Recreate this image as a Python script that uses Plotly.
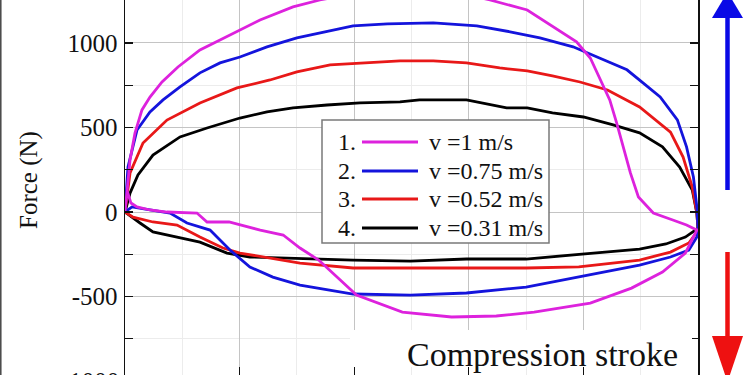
import plotly.graph_objects as go

W, H = 750, 375
ML, MR, MT, MB = 125, 52, 0, 0
PW, PH = W - ML - MR, H - MT - MB


def px(xp):
    return (xp - ML) / PW


def py(yp):
    return 1 - (yp - MT) / PH


FONT = "Liberation Serif, Times New Roman, serif"

# ---------------- data ----------------
series_numbers = ["1.", "2.", "3.", "4."]
series_names = ["v =1 m/s", "v =0.75 m/s", "v =0.52 m/s", "v =0.31 m/s"]
series_colors = ["#dd22dd", "#1414dc", "#e81818", "#000000"]

# upper (rebound) branches, left -> right
mag_up_x = [0, 0.44, 0.87, 1.48, 2.18, 3.23, 4.62, 6.54, 8.29, 10.03, 11.78, 14.66, 17.0, 20.5, 24.9,
            28.4, 31.85, 35.1, 37.1, 39.4, 40.6, 41.4, 42.3, 42.9, 43.5, 44.1, 44.8, 46.1, 47.8, 49.0, 49.9]
mag_up_y = [0, 308, 467, 604, 680, 769, 858, 959, 1018, 1077, 1136, 1213, 1254, 1300, 1330,
            1310, 1254, 1195, 1107, 1006, 911, 799, 663, 527, 385, 231, 89, -6, -47, -77, -107]

blu_up_x = [0, 0.26, 1.05, 2.18, 3.32, 4.80, 6.54, 8.29, 10.03, 12.39, 15.0, 17.6, 19.9, 22.9, 25.5,
            26.9, 30.7, 33.6, 36.2, 39.1, 41.4, 43.8, 45.2, 46.7, 48.2, 49.0, 49.6, 49.9]
blu_up_y = [0, 266, 485, 592, 663, 740, 823, 882, 917, 977, 1030, 1066, 1101, 1113, 1119,
            1119, 1101, 1066, 1030, 977, 911, 841, 764, 681, 545, 385, 207, 30]

red_up_x = [0, 0.44, 1.57, 3.66, 6.54, 9.77, 12.65, 15.0, 17.9, 20.5, 24.0, 26.9, 29.8, 32.7, 35.1,
            37.3, 39.7, 42.1, 44.9, 47.6, 48.7, 49.5, 49.9]
red_up_y = [0, 231, 408, 544, 645, 734, 781, 829, 870, 882, 894, 894, 882, 852, 835,
            805, 769, 722, 621, 473, 325, 148, -6]

blk_up_x = [0, 0.44, 1.13, 2.44, 4.80, 7.16, 10.03, 12.39, 14.66, 17.63, 20.5, 24.0, 25.7, 29.8, 33.3,
            35.1, 37.3, 40.0, 42.6, 44.9, 46.9, 48.4, 49.5, 49.9]
blk_up_y = [0, 112, 219, 337, 444, 497, 556, 592, 616, 633, 645, 651, 663, 663, 616,
            616, 586, 562, 515, 468, 385, 266, 130, -6]

# lower (compression) branches, left -> right
mag_lo_x = [0.17, 0.52, 1.05, 2.18, 3.66, 6.28, 7.16, 9.08, 11.8, 13.8, 15.27, 16.9, 20.2, 24.2, 28.5,
            32.4, 35.7, 40.6, 44.2, 46.9, 48.9, 49.9, 50.0]
mag_lo_y = [130, 53, 30, 12, 0, -6, -59, -59, -107, -136, -213, -284, -491, -592, -621,
            -615, -592, -539, -450, -355, -243, -107, -100]

blu_lo_x = [0, 0.61, 2.18, 3.93, 5.41, 7.42, 9.16, 10.9, 12.9, 15.27, 19.9, 24.9, 29.8, 35.0, 40.3,
            44.9, 47.6, 49.2, 49.9, 50.0]
blu_lo_y = [0, 30, 12, -6, -65, -107, -225, -325, -385, -432, -485, -491, -479, -444, -373,
            -314, -266, -225, -148, -100]

red_lo_x = [0, 0.70, 2.44, 4.54, 6.54, 8.55, 10.03, 12.39, 15.27, 19.9, 24.9, 29.8, 35.0, 39.6, 44.9,
            47.6, 49.2, 49.9, 50.0]
red_lo_y = [0, -30, -59, -77, -148, -213, -243, -272, -302, -331, -331, -331, -331, -325, -284,
            -237, -183, -118, -100]

blk_lo_x = [0, 1.31, 2.44, 4.54, 6.54, 8.9, 10.9, 14.66, 19.9, 24.9, 29.8, 35.0, 40.6, 44.9, 47.2,
            48.9, 49.9, 50.0]
blk_lo_y = [0, -65, -118, -148, -178, -243, -266, -272, -284, -290, -278, -278, -243, -219, -189,
            -148, -101, -100]

y_tick_vals = [-500, 0, 500, 1000]
y_tick_text = ["-500", "0", "500", "1000"]

# ---------------- figure ----------------
uppers = [(mag_up_x, mag_up_y), (blu_up_x, blu_up_y), (red_up_x, red_up_y), (blk_up_x, blk_up_y)]
lowers = [(mag_lo_x, mag_lo_y), (blu_lo_x, blu_lo_y), (red_lo_x, red_lo_y), (blk_lo_x, blk_lo_y)]

fig = go.Figure()
for i in [3, 2, 1, 0]:
    ux, uy = uppers[i]
    lx, ly = lowers[i]
    fig.add_trace(go.Scatter(
        x=list(ux) + list(lx[::-1]),
        y=list(uy) + list(ly[::-1]),
        mode="lines",
        line=dict(color=series_colors[i], width=2.8),
        name=series_names[i],
        showlegend=False,
        hoverinfo="skip",
    ))

shapes = []
annotations = []

# manual legend (number, line sample, label) inside a framed box
shapes.append(dict(type="rect", xref="paper", yref="paper",
                   x0=px(322), x1=px(549), y0=py(243), y1=py(120),
                   line=dict(color="#7a7a7a", width=1.5), fillcolor="white", layer="above"))
row_y = [142, 171, 199, 228]
for i in range(4):
    annotations.append(dict(xref="paper", yref="paper", x=px(358), y=py(row_y[i]),
                            xanchor="right", yanchor="middle", showarrow=False,
                            text=series_numbers[i], font=dict(family=FONT, size=24, color="#111")))
    shapes.append(dict(type="line", xref="paper", yref="paper",
                       x0=px(362), x1=px(418), y0=py(row_y[i]), y1=py(row_y[i]),
                       line=dict(color=series_colors[i], width=2.8), layer="above"))
    annotations.append(dict(xref="paper", yref="paper", x=px(427), y=py(row_y[i]),
                            xanchor="left", yanchor="middle", showarrow=False,
                            text=series_names[i], font=dict(family=FONT, size=24, color="#111")))

# white patch behind the "Compression stroke" label
shapes.append(dict(type="rect", xref="paper", yref="paper",
                   x0=px(350), x1=px(692), y0=py(367), y1=py(330),
                   line=dict(width=0), fillcolor="white", layer="above"))
annotations.append(dict(xref="paper", yref="paper", x=px(542), y=py(354),
                        xanchor="center", yanchor="middle", showarrow=False,
                        text="Compression stroke", font=dict(family=FONT, size=34, color="#111")))

# y-axis title
annotations.append(dict(xref="paper", yref="paper", x=px(29), y=py(180),
                        xanchor="center", yanchor="middle", showarrow=False, textangle=-90,
                        text="Force (N)", font=dict(family=FONT, size=25, color="#111")))
# partially visible bottom tick label
annotations.append(dict(xref="paper", yref="paper", x=px(121), y=py(381),
                        xanchor="right", yanchor="middle", showarrow=False,
                        text="-1000", font=dict(family=FONT, size=25, color="#111")))

# arrows at the right side
shapes.append(dict(type="line", xref="paper", yref="paper",
                   x0=px(727.5), x1=px(727.5), y0=py(190), y1=py(12),
                   line=dict(color="#0a0ae6", width=4.5)))
shapes.append(dict(type="path", xref="paper", yref="paper",
                   path=f"M {px(712)} {py(18)} L {px(743)} {py(18)} L {px(727.5)} {py(-8)} Z",
                   fillcolor="#0a0ae6", line=dict(width=0)))
shapes.append(dict(type="line", xref="paper", yref="paper",
                   x0=px(727.5), x1=px(727.5), y0=py(252), y1=py(340),
                   line=dict(color="#ee1111", width=4.5)))
shapes.append(dict(type="path", xref="paper", yref="paper",
                   path=f"M {px(712)} {py(336)} L {px(743)} {py(336)} L {px(727.5)} {py(382)} Z",
                   fillcolor="#ee1111", line=dict(width=0)))
# thin frame line at the very left of the picture
shapes.append(dict(type="line", xref="paper", yref="paper",
                   x0=px(0.8), x1=px(0.8), y0=py(0), y1=py(375),
                   line=dict(color="#444", width=1.5)))

fig.update_layout(
    width=W, height=H,
    margin=dict(l=ML, r=MR, t=MT, b=MB, autoexpand=False),
    paper_bgcolor="white", plot_bgcolor="white",
    shapes=shapes, annotations=annotations,
    showlegend=False,
    hovermode=False,
    xaxis=dict(range=[0, 50], dtick=10, showticklabels=False, showline=False,
               ticks="inside", ticklen=8, tickwidth=1.2, tickcolor="#111",
               showgrid=True, gridcolor="#c4c4c4", gridwidth=1, zeroline=False,
               minor=dict(dtick=5, showgrid=True, gridcolor="#ececec", gridwidth=1, ticks="")),
    yaxis=dict(range=[-964, 1254], tickvals=y_tick_vals, ticktext=y_tick_text,
               showline=True, linecolor="#111", linewidth=1.5, mirror="ticks",
               ticks="inside", ticklen=8, tickwidth=1.2, tickcolor="#111",
               tickfont=dict(family=FONT, size=25, color="#111"), ticklabelstandoff=1,
               showgrid=True, gridcolor="#c4c4c4", gridwidth=1, zeroline=False,
               minor=dict(dtick=250, tick0=0, showgrid=True, gridcolor="#ececec", gridwidth=1,
                          ticks="inside", ticklen=8, tickwidth=1.2, tickcolor="#111")),
)

fig.write_html(
    "out.html",
    config={"displayModeBar": False, "staticPlot": True},
    post_script="document.body.style.margin='0';document.body.style.overflow='hidden';",
)
